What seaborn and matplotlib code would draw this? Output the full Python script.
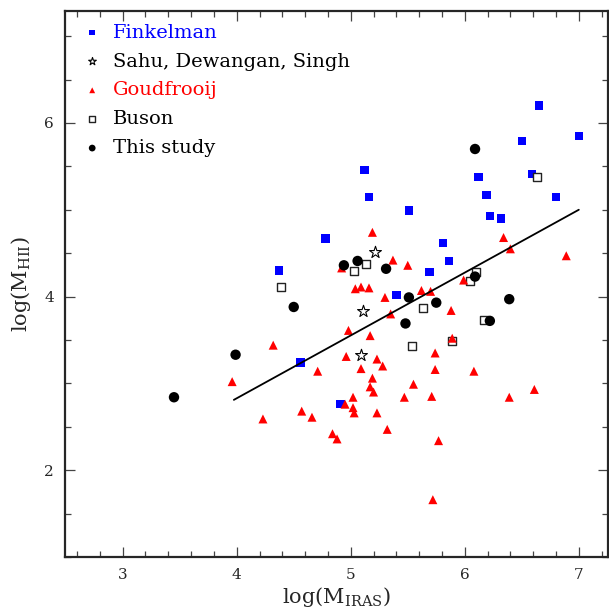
import matplotlib
matplotlib.use("Agg")
import matplotlib.pyplot as plt
import numpy as np
import seaborn as sns
from matplotlib.ticker import MultipleLocator

# Finkelman (filled blue squares)
fink_x = [4.37, 4.78, 5.12, 5.16, 5.51, 5.40, 5.69, 5.81, 5.86, 6.12,
          6.19, 6.22, 6.32, 6.50, 6.65, 6.59, 6.80, 7.00, 4.56, 4.91]
fink_y = [4.30, 4.67, 5.46, 5.15, 4.99, 4.02, 4.28, 4.62, 4.41, 5.38,
          5.17, 4.93, 4.90, 5.79, 6.20, 5.41, 5.15, 5.85, 3.24, 2.76]

# Sahu, Dewangan, Singh (open stars)
sahu_x = [5.21, 5.11, 5.09]
sahu_y = [4.51, 3.83, 3.33]

# Goudfrooij (red triangles)
goud_x = [5.19, 5.37, 5.50, 5.04, 5.09, 5.16, 5.30, 5.62, 5.70, 5.88,
          5.35, 4.98, 5.17, 5.89, 4.32, 4.96, 5.23, 5.28, 5.74, 5.09,
          5.74, 6.08, 4.71, 3.96, 5.19, 5.17, 5.20, 5.55, 5.02, 5.47,
          5.71, 6.39, 4.95, 5.02, 5.03, 5.23, 4.57, 4.66, 4.23, 5.32,
          4.84, 4.88, 5.77, 6.34, 6.40, 5.99, 5.72, 6.89, 4.92, 6.61]
goud_y = [4.74, 4.42, 4.36, 4.09, 4.11, 4.10, 3.99, 4.07, 4.06, 3.84,
          3.80, 3.61, 3.55, 3.52, 3.44, 3.31, 3.28, 3.20, 3.35, 3.17,
          3.16, 3.14, 3.14, 3.02, 3.06, 2.96, 2.90, 2.99, 2.84, 2.84,
          2.85, 2.84, 2.76, 2.72, 2.66, 2.66, 2.68, 2.61, 2.59, 2.47,
          2.42, 2.36, 2.34, 4.68, 4.55, 4.19, 1.66, 4.47, 4.33, 2.93]

# Buson (open squares)
buson_x = [4.39, 5.03, 5.13, 5.63, 5.54, 5.89, 6.05, 6.10, 6.17, 6.63]
buson_y = [4.11, 4.30, 4.38, 3.87, 3.43, 3.49, 4.18, 4.28, 3.73, 5.38]

# This study (black circles)
this_x = [3.45, 3.99, 4.50, 4.94, 5.06, 5.31, 5.51, 5.48, 5.75, 6.09,
          6.39, 6.22, 6.09]
this_y = [2.84, 3.33, 3.88, 4.36, 4.41, 4.32, 3.99, 3.69, 3.93, 4.23,
          3.97, 3.72, 5.70]

# fitted line
fit_x = [3.975, 7.0]
fit_y = [2.81, 5.0]

sns.set_style("ticks")
plt.rcParams["font.family"] = ["DejaVu Serif"]
plt.rcParams["mathtext.fontset"] = "dejavuserif"

fig = plt.figure(figsize=(6.09, 6.13), dpi=100)
ax = fig.add_axes([0.1067, 0.0914, 0.8924, 0.8907])

sns.scatterplot(x=fink_x, y=fink_y, marker="s", s=36, color="#0000ff",
                edgecolor="none", label="Finkelman", ax=ax, zorder=3)
sns.scatterplot(x=buson_x, y=buson_y, marker="s", s=36, facecolor="white",
                edgecolor="#222222", linewidth=1.0, label="Buson", ax=ax, zorder=3)
sns.scatterplot(x=sahu_x, y=sahu_y, marker="*", s=80, facecolor="white",
                edgecolor="black", linewidth=0.8, label="Sahu, Dewangan, Singh",
                ax=ax, zorder=4)
sns.scatterplot(x=goud_x, y=goud_y, marker="^", s=42, color="#ff0000",
                edgecolor="none", label="Goudfrooij", ax=ax, zorder=4)
sns.scatterplot(x=this_x, y=this_y, marker="o", s=56, color="black",
                edgecolor="none", label="This study", ax=ax, zorder=5)
sns.lineplot(x=fit_x, y=fit_y, color="black", linewidth=1.3, ax=ax, zorder=6)

ax.set_xlim(2.494, 7.26)
ax.set_ylim(1.0, 7.29)

ax.xaxis.set_major_locator(MultipleLocator(1))
ax.xaxis.set_minor_locator(MultipleLocator(0.2))
ax.yaxis.set_major_locator(MultipleLocator(2))
ax.yaxis.set_minor_locator(MultipleLocator(0.5))
ax.tick_params(which="both", direction="in", top=True, right=True,
               color="#444444", width=0.9)
ax.tick_params(which="major", length=7.5, labelsize=11, pad=8)
ax.tick_params(which="minor", length=4.3)
for sp in ax.spines.values():
    sp.set_linewidth(1.6)

ax.set_xlabel(r"log(M$_{\mathrm{IRAS}}$)", fontsize=15, labelpad=2)
ax.set_ylabel(r"log(M$_{\mathrm{HII}}$)", fontsize=15, labelpad=8)

handles, labels = ax.get_legend_handles_labels()
order = ["Finkelman", "Sahu, Dewangan, Singh", "Goudfrooij", "Buson", "This study"]
hmap = dict(zip(labels, handles))
ax.legend([hmap[k] for k in order], order, loc="upper left", frameon=False,
          fontsize=14, markerscale=0.65, handletextpad=0.3, labelspacing=0.56,
          borderaxespad=0.25, handlelength=1.5,
          labelcolor=["#0000ff", "black", "#ff0000", "black", "black"])

fig.savefig("out.png", dpi=100)
